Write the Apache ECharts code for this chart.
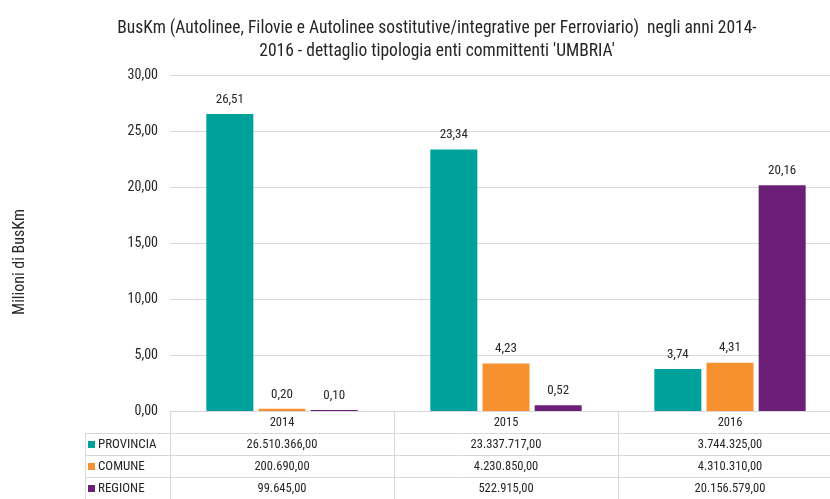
<!DOCTYPE html>
<html>
<head>
<meta charset="utf-8">
<script src="https://cdn.jsdelivr.net/npm/echarts@6/dist/echarts.min.js"></script>
<style>
  html, body { margin: 0; padding: 0; background: #fff; overflow: hidden; }
  #chart { width: 842px; height: 499px; }
</style>
</head>
<body>
<div id="chart"></div>
<script>
// data
var years = ['2014', '2015', '2016'];
var provincia = [26510366, 23337717, 3744325];
var comune = [200690, 4230850, 4310310];
var regione = [99645, 522915, 20156579];
var seriesNames = ['PROVINCIA', 'COMUNE', 'REGIONE'];
var colors = ['#00A19A', '#F7912F', '#6B1F76'];

var FONT = '"Roboto Condensed", "Liberation Sans Narrow", Roboto, sans-serif';
var gridColor = '#d9d9d9';
var txt = '#262626';

function itNum(v, dec) {
  var s = v.toFixed(dec).split('.');
  var int = s[0].replace(/\B(?=(\d{3})+(?!\d))/g, '.');
  return dec > 0 ? int + ',' + s[1] : int;
}
function mil(arr) {
  return arr.map(function (v) { return v / 1e6; });
}

// the plot area runs a little past the right edge in the original
var chart = echarts.init(document.getElementById('chart'));

function tableAxis(arr, offset) {
  return {
    type: 'category',
    gridIndex: 0,
    position: 'bottom',
    offset: offset,
    data: arr.map(function (v) { return itNum(v, 2); }),
    axisLine: { show: false },
    axisTick: { show: false },
    axisLabel: { color: txt, fontSize: 12.5, fontFamily: FONT, margin: 5 }
  };
}

var barSeries = [provincia, comune, regione].map(function (arr, i) {
  return {
    name: seriesNames[i],
    type: 'bar',
    data: mil(arr),
    barWidth: 47,
    barGap: '11%',
    itemStyle: { color: colors[i] },
    label: {
      show: true,
      position: 'top',
      distance: 8,
      color: txt,
      fontSize: 13,
      fontFamily: FONT,
      formatter: function (p) { return itNum(p.value, 2); }
    }
  };
});

var option = {
  animation: false,
  color: colors,
  textStyle: { fontFamily: FONT },
  title: {
    text: "BusKm (Autolinee, Filovie e Autolinee sostitutive/integrative per Ferroviario)  negli anni 2014-\n2016 - dettaglio tipologia enti committenti 'UMBRIA'",
    left: 432,
    top: 12,
    textAlign: 'center',
    textStyle: { fontSize: 17.5, fontWeight: 'normal', color: txt, fontFamily: FONT, lineHeight: 23 }
  },
  legend: {
    orient: 'vertical',
    left: 88,
    top: 437,
    padding: 0,
    itemWidth: 7,
    itemHeight: 7,
    itemGap: 7,
    icon: 'rect',
    textStyle: { fontSize: 13, color: txt, fontFamily: FONT, lineHeight: 15, padding: [0, 0, 0, -2] },
    data: seriesNames
  },
  grid: { left: 170, right: 0, top: 75, bottom: 88 },
  xAxis: [
    {
      type: 'category',
      data: years,
      axisLine: { lineStyle: { color: gridColor } },
      axisTick: { show: true, length: 88, lineStyle: { color: gridColor } },
      axisLabel: { color: txt, fontSize: 12.5, fontFamily: FONT, margin: 5 }
    },
    tableAxis(provincia, 22),
    tableAxis(comune, 44),
    tableAxis(regione, 66)
  ],
  yAxis: {
    type: 'value',
    min: 0,
    max: 30,
    interval: 5,
    axisLine: { show: false },
    axisTick: { show: false },
    splitLine: { lineStyle: { color: gridColor } },
    axisLabel: {
      color: txt, fontSize: 14, fontFamily: FONT, margin: 12,
      formatter: function (v) { return itNum(v, 2); }
    }
  },
  graphic: [
    {
      type: 'text', x: 20, y: 262, rotation: Math.PI / 2,
      style: { text: 'Milioni di BusKm', fill: txt, font: '16px ' + FONT, textAlign: 'center', textVerticalAlign: 'middle' }
    },
    { type: 'line', shape: { x1: 85, y1: 433.5, x2: 842, y2: 433.5 }, style: { stroke: gridColor, lineWidth: 1 } },
    { type: 'line', shape: { x1: 85, y1: 455.5, x2: 842, y2: 455.5 }, style: { stroke: gridColor, lineWidth: 1 } },
    { type: 'line', shape: { x1: 85, y1: 477.5, x2: 842, y2: 477.5 }, style: { stroke: gridColor, lineWidth: 1 } },
    { type: 'line', shape: { x1: 85.5, y1: 433, x2: 85.5, y2: 499 }, style: { stroke: gridColor, lineWidth: 1 } }
  ],
  series: barSeries
};

chart.setOption(option);
</script>
</body>
</html>
